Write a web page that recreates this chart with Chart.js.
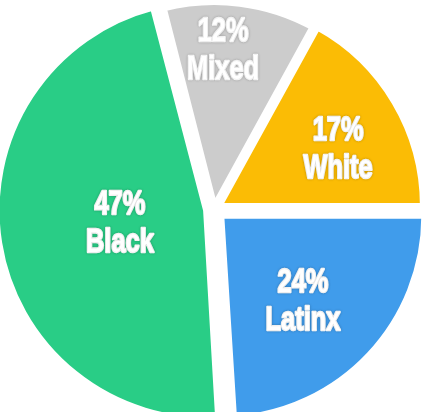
<!DOCTYPE html>
<html lang="en">
<head>
  <meta charset="UTF-8" />
  <title>Share by group</title>
  <script src="https://cdn.jsdelivr.net/npm/chart.js"></script>
  <style>
    html, body { margin: 0; padding: 0; background: #fff; }
    #wrap { width: 426px; height: 412px; position: relative; }
  </style>
</head>
<body>
  <div id="wrap"><canvas id="pieChart"></canvas></div>

  <script>
    // data
    const categories = ['Mixed', 'White', 'Latinx', 'Black'];
    const shares = [12, 17, 24, 47];

    const sliceColors = ['#cccccc', '#fbbc05', '#409ceb', '#29cd86'];
    const sliceOffsets = [12, 24, 40, 32];        // chart.js shifts by offset/4
    const labelDepth = [0.765, 0.647, 0.585, 0.43]; // label distance as share of radius
    const labelTurn = [-3.9, 5.2, 3.1, 0];          // small angle nudge, degrees

    // white two-line labels drawn on each slice
    const sliceLabels = {
      id: 'sliceLabels',
      afterDatasetsDraw(chart) {
        const ctx = chart.ctx;
        const meta = chart.getDatasetMeta(0);
        meta.data.forEach((arc, i) => {
          const p = arc.getProps(['x', 'y', 'startAngle', 'endAngle', 'outerRadius'], true);
          const mid = (p.startAngle + p.endAngle) / 2 + labelTurn[i] * Math.PI / 180;
          const shift = sliceOffsets[i] / 4;
          const r = p.outerRadius * labelDepth[i] + shift;
          const lx = p.x + Math.cos(mid) * r;
          const ly = p.y + Math.sin(mid) * r;
          ctx.save();
          ctx.translate(lx, ly);
          ctx.scale(0.77, 1);
          ctx.font = 'bold 33px "Liberation Sans", Arial, sans-serif';
          ctx.textAlign = 'center';
          ctx.textBaseline = 'middle';
          ctx.fillStyle = '#fff';
          ctx.shadowColor = 'rgba(0,0,0,0.2)';
          ctx.shadowBlur = 3;
          ctx.lineJoin = 'round';
          ctx.lineWidth = 2.4;
          ctx.strokeStyle = '#fff';
          const lines = [shares[i] + '%', categories[i]];
          lines.forEach((t, k) => {
            const yy = (k - 0.5) * 38;
            ctx.strokeText(t, 0, yy);
            ctx.fillText(t, 0, yy);
          });
          ctx.restore();
        });
      }
    };

    new Chart(document.getElementById('pieChart'), {
      type: 'pie',
      data: {
        labels: categories,
        datasets: [{
          data: shares,
          backgroundColor: sliceColors,
          borderColor: '#ffffff',
          borderWidth: 6,
          borderJoinStyle: 'miter',
          offset: sliceOffsets
        }]
      },
      options: {
        responsive: true,
        maintainAspectRatio: false,
        animation: false,
        events: [],
        rotation: -14.4,
        radius: 203,
        layout: { padding: { left: 2, right: 0, top: 6, bottom: 0 } },
        plugins: {
          legend: { display: false },
          tooltip: { enabled: false }
        }
      },
      plugins: [sliceLabels]
    });
  </script>
</body>
</html>
